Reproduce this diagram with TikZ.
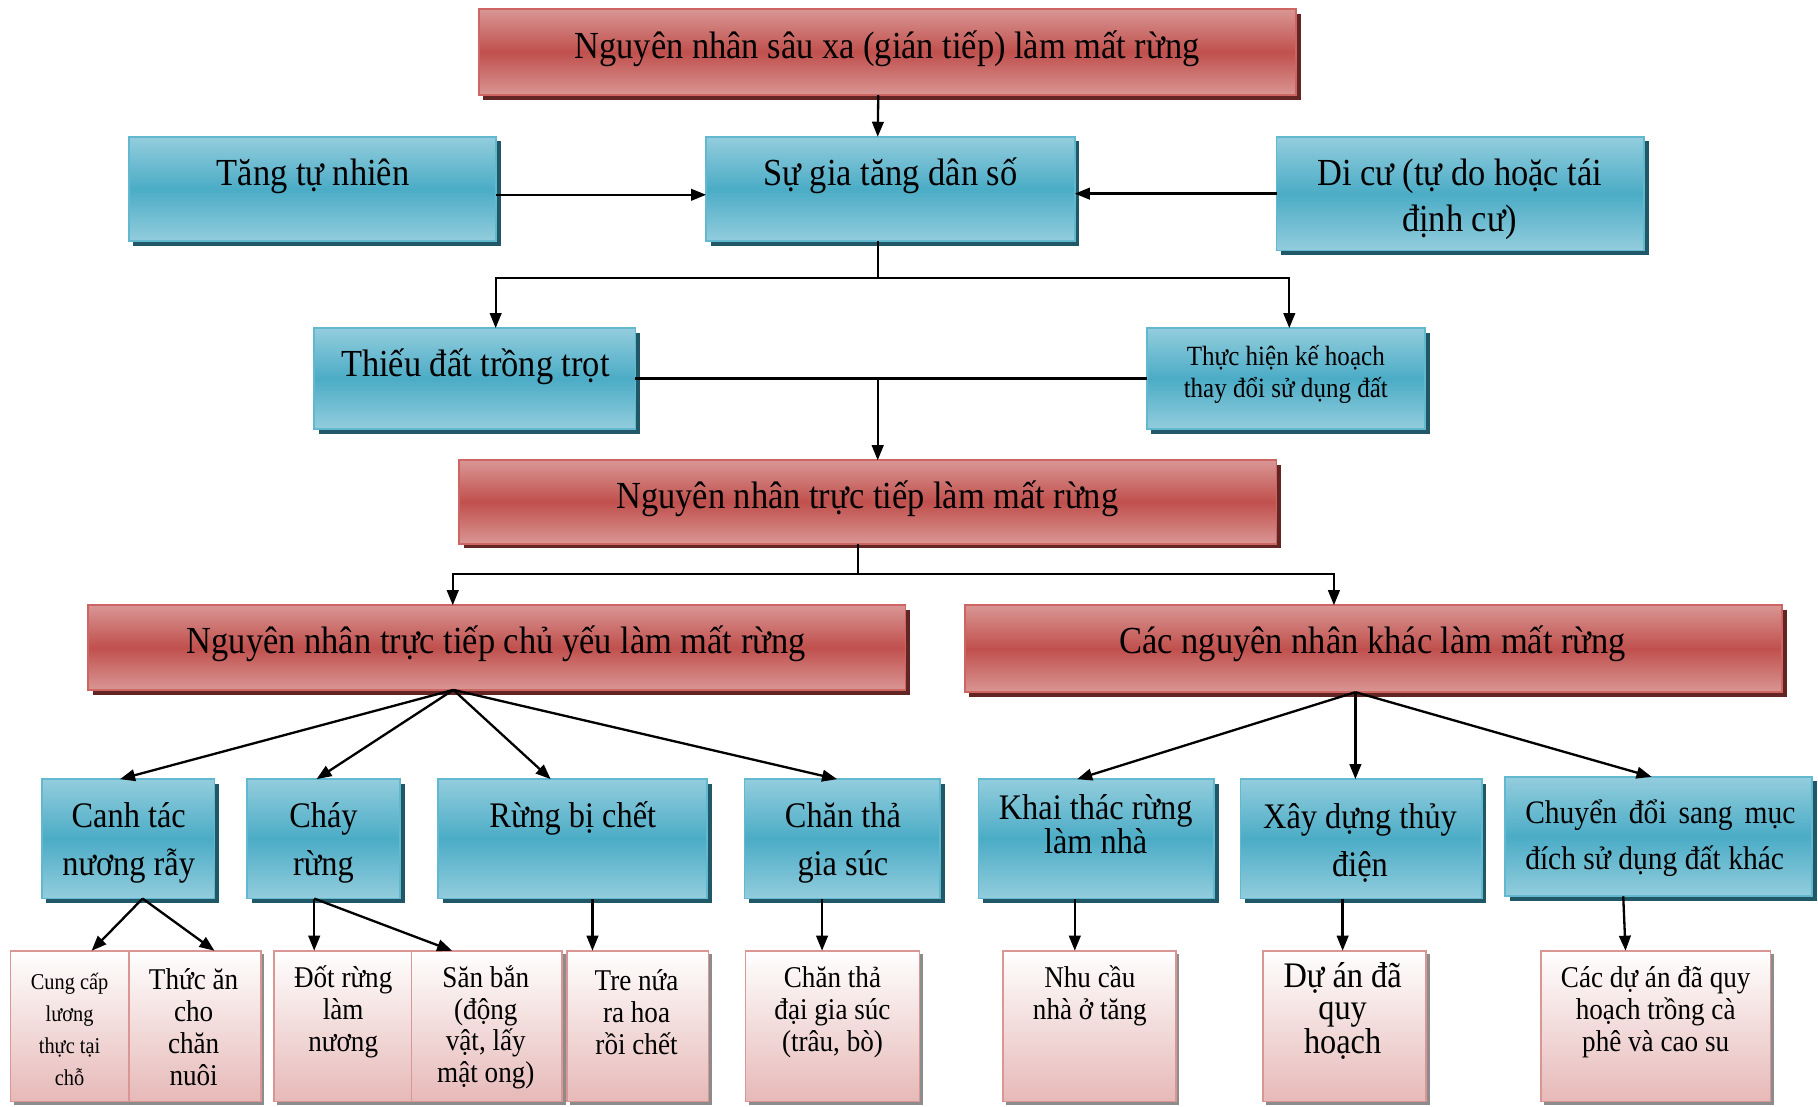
\documentclass[tikz,border=0pt]{standalone}
\usepackage{fontspec}
\setmainfont{Liberation Serif}[FakeStretch=0.9]
\usetikzlibrary{arrows.meta,shadows}

\definecolor{bluetop}{HTML}{93CDDD}
\definecolor{bluemid}{HTML}{4BACC6}
\definecolor{blueline}{HTML}{62B8CF}
\definecolor{blueshadow}{HTML}{215867}
\definecolor{redtop}{HTML}{D99694}
\definecolor{redmid}{HTML}{C0504D}
\definecolor{redline}{HTML}{CD6663}
\definecolor{redshadow}{HTML}{632523}
\definecolor{pinkbot}{HTML}{E6B9B8}
\definecolor{pinkmid}{HTML}{F2DCDB}
\definecolor{pinkline}{HTML}{D99694}
\definecolor{pinkshadow}{HTML}{8C8C8C}

\newcommand\fA{\fontsize{33}{40}\selectfont}
\newcommand\fB{\fontsize{31}{42}\selectfont}
\newcommand\fC{\fontsize{26}{27.5}\selectfont}

% box from (left,top) to (right,bottom)
\newcommand\mkbox[6]{\node[#1, minimum width={(#5)-(#3)}, minimum height={(#6)-(#4)}] (#2) at (#3,#4) {};}

\tikzset{
  box/.style={rectangle, inner sep=0pt, outer sep=0pt, anchor=north west, line width=1.5pt},
  bluebox/.style={box, draw=blueline, top color=bluetop, bottom color=bluetop, middle color=bluemid,
    general shadow={fill=blueshadow, shadow xshift=4pt, shadow yshift=-4pt}},
  redbox/.style={box, draw=redline, top color=redtop, bottom color=redtop, middle color=redmid,
    general shadow={fill=redshadow, shadow xshift=4pt, shadow yshift=-4pt}},
  pinkbox/.style={box, draw=pinkline, top color=white, bottom color=pinkbot, middle color=pinkmid,
    general shadow={fill=pinkshadow, shadow xshift=3pt, shadow yshift=-3pt}},
  txt/.style={inner sep=0pt, align=center, text=black},
  link/.style={line width=2pt, draw=black},
  arr/.style={link, -{Triangle[length=13pt,width=10pt]}},
}

\begin{document}
\begin{tikzpicture}[x=1pt, y=-1pt]
\useasboundingbox (0,0) rectangle (1568,954);

% ---- boxes ----
\mkbox{redbox}{top}{413}{8}{1118}{82}
\mkbox{bluebox}{tang}{111}{118}{428}{208}
\mkbox{bluebox}{sgt}{609}{118}{927}{208}
\mkbox{bluebox}{dicu}{1101}{118}{1418}{216}
\mkbox{bluebox}{thieu}{271}{283}{548}{370}
\mkbox{bluebox}{thuchien}{989}{283}{1229}{370}
\mkbox{redbox}{tructiep}{396}{397}{1101}{469}
\mkbox{redbox}{chuyeu}{76}{522}{781}{595}
\mkbox{redbox}{khac}{832}{522}{1537}{597}

\mkbox{bluebox}{canh}{36}{672}{185}{775}
\mkbox{bluebox}{chay}{213}{672}{345}{775}
\mkbox{bluebox}{rung}{378}{672}{610}{775}
\mkbox{bluebox}{chan}{642}{672}{811}{775}
\mkbox{bluebox}{khai}{844}{672}{1047}{775}
\mkbox{bluebox}{xay}{1070}{672}{1278}{775}
\mkbox{bluebox}{chuyen}{1298}{670}{1563}{773}

\mkbox{pinkbox}{cung}{9}{820}{111}{950}
\mkbox{pinkbox}{thucan}{111}{820}{225}{950}
\mkbox{pinkbox}{dot}{236}{820}{355}{950}
\mkbox{pinkbox}{san}{355}{820}{485}{950}
\mkbox{pinkbox}{tre}{489}{820}{611}{950}
\mkbox{pinkbox}{daigs}{643}{820}{793}{950}
\mkbox{pinkbox}{nhu}{865}{820}{1014}{950}
\mkbox{pinkbox}{duan}{1089}{820}{1230}{950}
\mkbox{pinkbox}{cacda}{1329}{820}{1527}{950}

% ---- texts ----
\node[txt, font=\fA] (top-t) at (765,42) {Nguyên nhân sâu xa (gián tiếp) làm mất rừng};
\node[txt, font=\fA] (tang-t) at (270,152) {Tăng tự nhiên};
\node[txt, font=\fA] (sgt-t) at (768,152) {Sự gia tăng dân số};
\node[txt, font=\fA] (dicu-t) at (1259,172) {Di cư (tự do hoặc tái\\định cư)};
\node[txt, font=\fA] (thieu-t) at (410,316) {Thiếu đất trồng trọt};
\node[txt, font=\fontsize{24}{28}\selectfont] (thuchien-t) at (1109,323) {Thực hiện kế hoạch\\thay đổi sử dụng đất};
\node[txt, font=\fA] (tructiep-t) at (748,430) {Nguyên nhân trực tiếp làm mất rừng};
\node[txt, font=\fA] (chuyeu-t) at (428,555) {Nguyên nhân trực tiếp chủ yếu làm mất rừng};
\node[txt, font=\fA] (khac-t) at (1184,555) {Các nguyên nhân khác làm mất rừng};

\node[txt, font=\fB] (canh-t) at (111,727) {Canh tác\\nương rẫy};
\node[txt, font=\fB] (chay-t) at (279,727) {Cháy\\rừng};
\node[txt, font=\fB] (rung-t) at (494,706) {Rừng bị chết};
\node[txt, font=\fB] (chan-t) at (727,727) {Chăn thả\\gia súc};
\node[txt, font=\fontsize{31}{28}\selectfont] (khai-t) at (945,711) {Khai thác rừng\\làm nhà};
\node[txt, font=\fB] (xay-t) at (1173,727) {Xây dựng thủy\\điện};
\node[txt, align=left, font=\fontsize{28.3}{40}\selectfont] (chuyen-t) at (1432,723)
  {\makebox[233pt][s]{Chuyển đổi sang mục}\\đích sử dụng đất khác};

\node[txt, font=\fontsize{19.5}{27.5}\selectfont] (cung-t) at (60,888) {Cung cấp\\lương\\thực tại\\chỗ};
\node[txt, font=\fC] (thucan-t) at (167,886) {Thức ăn\\cho\\chăn\\nuôi};
\node[txt, font=\fC] (dot-t) at (296,873) {Đốt rừng\\làm\\nương};
\node[txt, font=\fC] (san-t) at (419,886) {Săn bắn\\(động\\vật, lấy\\mật ong)};
\node[txt, font=\fC] (tre-t) at (549,873) {Tre nứa\\ra hoa\\rồi chết};
\node[txt, font=\fC] (daigs-t) at (718,873) {Chăn thả\\đại gia súc\\(trâu, bò)};
\node[txt, font=\fC] (nhu-t) at (940,859) {Nhu cầu\\nhà ở tăng};
\node[txt, font=\fontsize{31}{28}\selectfont] (duan-t) at (1158,872) {Dự án đã\\quy\\hoạch};
\node[txt, font=\fC] (cacda-t) at (1428,873) {Các dự án đã quy\\hoạch trồng cà\\phê và cao su};

% ---- connectors ----
\draw[arr] ([xshift=-8pt]top.south) -- ([xshift=-11pt]sgt.north);
\draw[arr] ([yshift=-5pt]tang.east) -- ([yshift=-5pt]sgt.west);
\draw[arr] (dicu.west) -- (dicu.west -| sgt.east);

\coordinate (j1) at (757,240);
\draw[link] (j1 |- sgt.south) -- (j1);
\draw[arr] (j1) -| ([xshift=18pt]thieu.north);
\draw[arr] (j1) -| ([xshift=3pt]thuchien.north);

\draw[link] (thieu.east) -- (thuchien.west);
\coordinate (j2) at (757,326.5);
\draw[arr] (j2) -- (j2 |- tructiep.north);

\coordinate (j3) at (740,495);
\draw[link] (j3 |- tructiep.south) -- (j3);
\draw[arr] (j3) -| ([xshift=-38pt]chuyeu.north);
\draw[arr] (j3) -| ([xshift=-34pt]khac.north);

\coordinate (f1) at ([xshift=-37.5pt]chuyeu.south);
\draw[arr] (f1) -- ([xshift=-7pt]canh.north);
\draw[arr] (f1) -- ([xshift=-6pt]chay.north);
\draw[arr] (f1) -- ([xshift=-19pt]rung.north);
\draw[arr] (f1) -- ([xshift=-4.5pt]chan.north);

\coordinate (f2) at ([xshift=-15.5pt]khac.south);
\draw[arr] (f2) -- ([xshift=-16.5pt]khai.north);
\draw[arr] (f2) -- (f2 |- xay.north);
\draw[arr] (f2) -- ([xshift=-6pt]chuyen.north);

\coordinate (c1) at ([xshift=12.5pt]canh.south);
\draw[arr] (c1) -- ([xshift=19pt]cung.north);
\draw[arr] (c1) -- ([xshift=17pt]thucan.north);
\coordinate (c2) at ([xshift=-8pt]chay.south);
\draw[arr] (c2) -- (c2 |- dot.north);
\draw[arr] (c2) -- ([xshift=-30pt]san.north);
\coordinate (c3) at ([xshift=17pt]rung.south);
\draw[arr] (c3) -- (c3 |- tre.north);
\coordinate (c4) at ([xshift=-17.5pt]chan.south);
\draw[arr] (c4) -- (c4 |- daigs.north);
\coordinate (c5) at ([xshift=-18.5pt]khai.south);
\draw[arr] (c5) -- (c5 |- nhu.north);
\coordinate (c6) at ([xshift=-16pt]xay.south);
\draw[arr] (c6) -- (c6 |- duan.north);
\coordinate (c7) at ([xshift=-30.5pt]chuyen.south);
\draw[arr] (c7) -- ([xshift=-26pt]cacda.north);
\end{tikzpicture}
\end{document}
